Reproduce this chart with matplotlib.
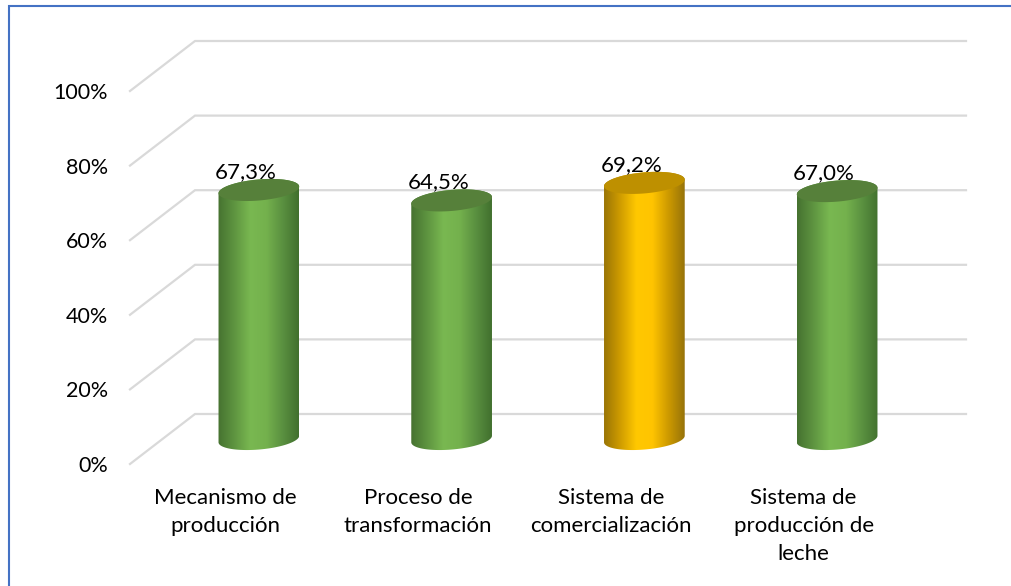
import numpy as np
import matplotlib
matplotlib.use("Agg")
import matplotlib.pyplot as plt
from matplotlib.colors import LinearSegmentedColormap
from matplotlib.patches import Polygon

plt.rcParams['font.family'] = ['Lato', 'DejaVu Sans']

categories = ["Mecanismo de\nproducción", "Proceso de\ntransformación",
              "Sistema de\ncomercialización", "Sistema de\nproducción de\nleche"]
values = [67.3, 64.5, 69.2, 67.0]
labels = ["67,3%", "64,5%", "69,2%", "67,0%"]
ticks = [0, 20, 40, 60, 80, 100]

W, H = 1012, 586
# the axes is the back wall of the 3D box
fig = plt.figure(figsize=(W / 100, H / 100), dpi=100)
ax = fig.add_axes([195 / W, 1 - 414 / H, 771 / W, 373 / H])
ax.set_xlim(-0.5, 3.5)
ax.set_ylim(0, 100)
ax.axis("off")

sx = 771 / 4    # pixels per category
sy = 373 / 100  # pixels per percent
depth_x, depth_y = 65 / sx, 50 / sy

for t in ticks:
    ax.plot([-0.5 - depth_x, -0.5, 3.5], [t - depth_y, t, t], color="#D9D9D9",
            lw=1.6, clip_on=False, zorder=1, solid_joinstyle="miter")
    ax.text(-0.5 - depth_x - 22 / sx, t - depth_y - 2 / sy, f"{t}%", ha="right", va="center",
            fontsize=15.5, color="black", clip_on=False)

for i, cat in enumerate(categories):
    ax.text(i - depth_x - 1 / sx, -depth_y - 23.5 / sy, cat, ha="center", va="top", fontsize=16,
            color="black", linespacing=1.53, clip_on=False)

green = LinearSegmentedColormap.from_list("g", ["#467230", "#5E9440", "#79B851", "#74B14D", "#5A9040", "#41702E"])
gold = LinearSegmentedColormap.from_list("y", ["#9A7506", "#CF9C00", "#FFC800", "#FFC400", "#CC9900", "#96730A"])
cmaps = [green, green, gold, green]
tops = ["#56803A", "#56803A", "#BE9000", "#56803A"]

# tilted ellipse, in pixels around the centre of the cylinder
rx, ry, tilt = 40.5, 10.5, np.deg2rad(5)
th = np.linspace(0, 2 * np.pi, 181)
ex = rx * np.cos(th) * np.cos(tilt) - ry * np.sin(th) * np.sin(tilt)
ey = rx * np.cos(th) * np.sin(tilt) + ry * np.sin(th) * np.cos(tilt)
ex, ey = ex / sx, ey / sy
grad = np.linspace(0, 1, 256).reshape(1, -1)

for i, v in enumerate(values):
    cx = i - depth_x / 2
    y0 = -depth_y / 2
    y1 = v - depth_y / 2 - 2 / sy
    lower = th >= np.pi
    upper = th <= np.pi
    body = np.concatenate([
        np.column_stack([cx + ex[lower], y0 + ey[lower]]),
        np.column_stack([cx + ex[upper], y1 + ey[upper]]),
    ])
    im = ax.imshow(grad, cmap=cmaps[i], aspect="auto", zorder=2, interpolation="bilinear",
                   extent=[cx - rx / sx, cx + rx / sx, y0 - 15 / sy, y1 + 15 / sy])
    clip = Polygon(body, closed=True, transform=ax.transData)
    im.set_clip_path(clip)
    im.set_clip_box(fig.bbox)  # cylinder foot hangs below the back wall
    ax.add_patch(Polygon(np.column_stack([cx + ex, y1 + ey]), closed=True,
                         facecolor=tops[i], edgecolor="none", zorder=3, clip_on=False))
    ax.text(cx - 13 / sx, y1 + 18 / sy, labels[i], ha="center", va="center", fontsize=16,
            color="black", zorder=4, clip_on=False)

ax.set_xlim(-0.5, 3.5)
ax.set_ylim(0, 100)

# blue frame of the pasted picture
fig.add_artist(plt.Line2D([8.5 / W, 8.5 / W, 1], [0, 1 - 5.5 / H, 1 - 5.5 / H],
                          color="#4472C4", lw=1.5, solid_joinstyle="miter"))

fig.savefig("out.png", dpi=100, facecolor="white")
